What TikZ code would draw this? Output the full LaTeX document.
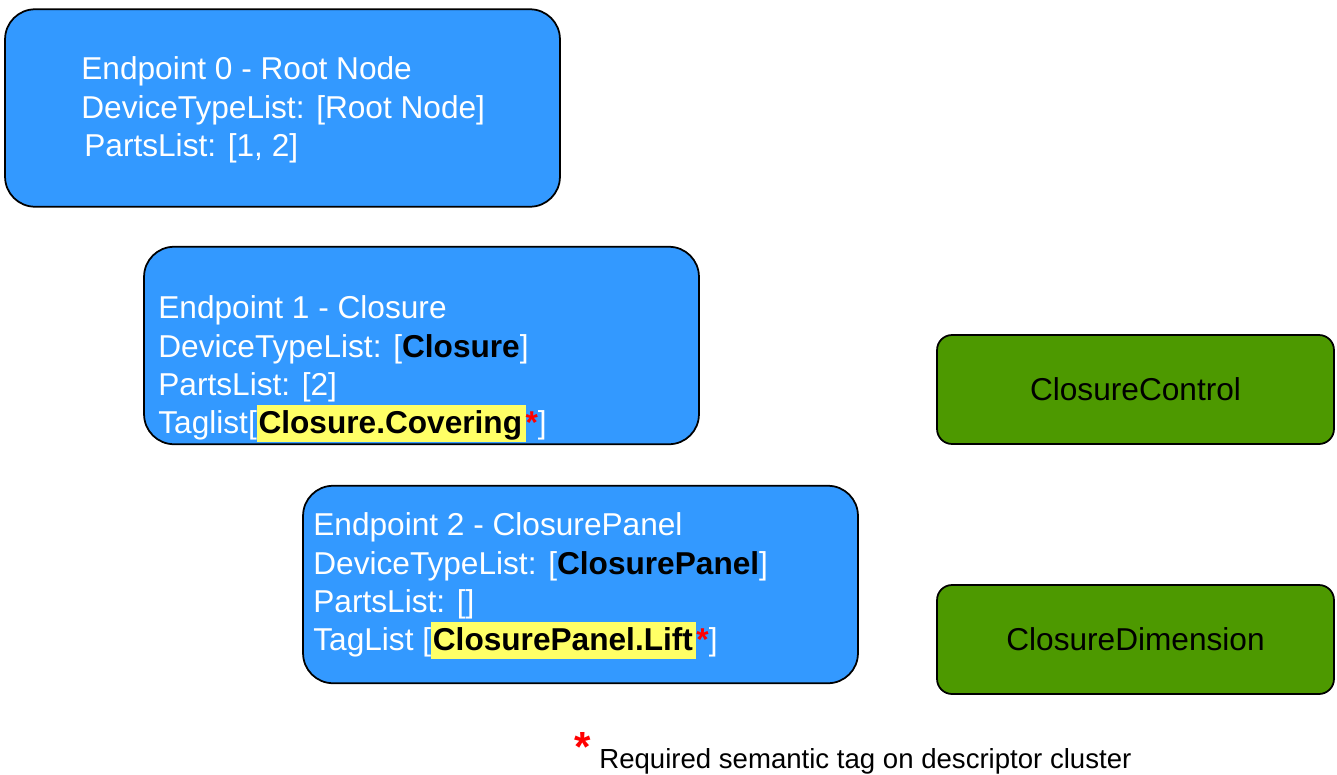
\documentclass[tikz,border=0pt]{standalone}
\usepackage{fontspec}
\setmainfont{Liberation Sans}
\definecolor{epblue}{HTML}{3399FF}
\definecolor{clgreen}{HTML}{4D9900}
\definecolor{taghl}{HTML}{FFFF66}
\newcommand{\devname}[1]{\textcolor{black}{\bfseries #1}}
\newcommand{\reqtag}[1]{{\setlength{\fboxsep}{1pt}\colorbox{taghl}{\color{black}\bfseries\vrule height 0.85em depth 0.2em width 0pt #1\hspace{1pt}}}\textcolor{red}{\bfseries*}}
\begin{document}
\begin{tikzpicture}[x=0.02cm, y=-0.02cm,
  epbox/.style={draw=black, line width=1pt, fill=epblue, rounded corners=0.6cm, minimum width=11.1cm, minimum height=3.95cm},
  clbox/.style={draw=black, line width=1pt, fill=clgreen, rounded corners=0.3cm, minimum width=7.94cm, minimum height=2.18cm, font=\fontsize{18}{21.8}\selectfont},
  eptext/.style={anchor=west, inner sep=0pt, align=left, text=white, font=\fontsize{18}{21.8}\selectfont}]
\useasboundingbox (0,0) rectangle (1337,774);
% endpoints
\node[epbox] (ep0) at (282.5,108) {};
\node[eptext] (ep0text) at (81,110) {Endpoint 0 - Root Node\\DeviceTypeList: [Root Node]\\\hspace{0.06cm}PartsList: [1, 2]};
\node[epbox] (ep1) at (421.5,345.5) {};
\node[eptext] (ep1text) at (158,369) {Endpoint 1 - Closure\\DeviceTypeList: [\devname{Closure}]\\PartsList: [2]\\Taglist[\reqtag{Closure.Covering}]};
\node[epbox] (ep2) at (580.5,584.5) {};
\node[eptext] (ep2text) at (313,586) {Endpoint 2 - ClosurePanel\\DeviceTypeList: [\devname{ClosurePanel}]\\PartsList: []\\TagList [\reqtag{ClosurePanel.Lift}]};
% clusters
\node[clbox] (clctrl) at (1135.5,389.5) {ClosureControl};
\node[clbox] (cldim) at (1135.5,639.5) {ClosureDimension};
% note
\node[inner sep=0pt, anchor=base west, font=\fontsize{15.7}{18}\selectfont] (note) at (599,768) {Required semantic tag on descriptor cluster};
\node[inner sep=0pt, anchor=base, text=red, font=\fontsize{24}{24}\selectfont\bfseries] (notestar) at (583,761) {*};
\end{tikzpicture}
\end{document}
